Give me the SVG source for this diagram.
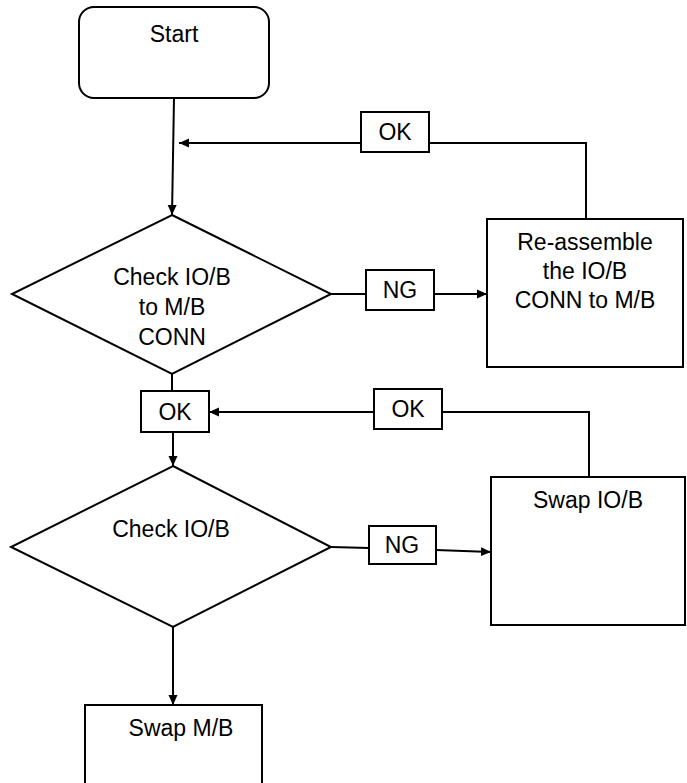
<svg xmlns="http://www.w3.org/2000/svg" width="687" height="783" viewBox="0 0 687 783">
<style>
.s{fill:#fff;stroke:#000;stroke-width:2}
.t{font-family:"Liberation Sans",Arial,sans-serif;font-size:23px;fill:#000;text-anchor:middle}
.c{fill:none;stroke:#000;stroke-width:2}
</style>
<defs>
<marker id="a" viewBox="0 0 10 10" refX="10" refY="5" markerWidth="10" markerHeight="10" markerUnits="userSpaceOnUse" orient="auto"><path d="M0,0.5L10,5L0,9.5z" fill="#000"/></marker>
</defs>
<rect width="687" height="783" fill="#fff"/>
<g id="connectors">
<path class="c" d="M174,98L172,215" marker-end="url(#a)"/>
<path class="c" d="M586,219V143H179" marker-end="url(#a)"/>
<path class="c" d="M331,294H487" marker-end="url(#a)"/>
<path class="c" d="M172,374V391"/>
<path class="c" d="M173,432V466" marker-end="url(#a)"/>
<path class="c" d="M589,477V412H209" marker-end="url(#a)"/>
<path class="c" d="M331,547L369,548"/>
<path class="c" d="M436,550L491,552" marker-end="url(#a)"/>
<path class="c" d="M173,627V705" marker-end="url(#a)"/>
</g>
<g id="start">
<rect class="s" x="79" y="7" width="190" height="91" rx="15"/>
<text class="t" x="174" y="42">Start</text>
</g>
<g id="check1">
<polygon class="s" points="172,215 331,294 172,374 12,294"/>
<text class="t" x="172" y="285">Check IO/B</text>
<text class="t" x="172" y="315">to M/B</text>
<text class="t" x="172" y="345">CONN</text>
</g>
<g id="ok1">
<rect class="s" x="361" y="112" width="68" height="40"/>
<text class="t" x="395" y="140">OK</text>
</g>
<g id="ng1">
<rect class="s" x="366" y="270" width="68" height="40"/>
<text class="t" x="400" y="298">NG</text>
</g>
<g id="reassemble">
<rect class="s" x="487" y="219" width="196" height="148"/>
<text class="t" x="585" y="250">Re-assemble</text>
<text class="t" x="585" y="279">the IO/B</text>
<text class="t" x="585" y="308">CONN to M/B</text>
</g>
<g id="ok2">
<rect class="s" x="141" y="391" width="68" height="41"/>
<text class="t" x="175" y="420">OK</text>
</g>
<g id="ok3">
<rect class="s" x="374" y="389" width="68" height="40"/>
<text class="t" x="408" y="417">OK</text>
</g>
<g id="check2">
<polygon class="s" points="173,466 331,547 173,627 11,547"/>
<text class="t" x="171" y="537">Check IO/B</text>
</g>
<g id="ng2">
<rect class="s" x="369" y="526" width="67" height="38"/>
<text class="t" x="402" y="553">NG</text>
</g>
<g id="swapio">
<rect class="s" x="491" y="477" width="194" height="148"/>
<text class="t" x="588" y="508">Swap IO/B</text>
</g>
<g id="swapmb">
<rect class="s" x="85" y="705" width="177" height="90"/>
<text class="t" x="181" y="736">Swap M/B</text>
</g>
</svg>
